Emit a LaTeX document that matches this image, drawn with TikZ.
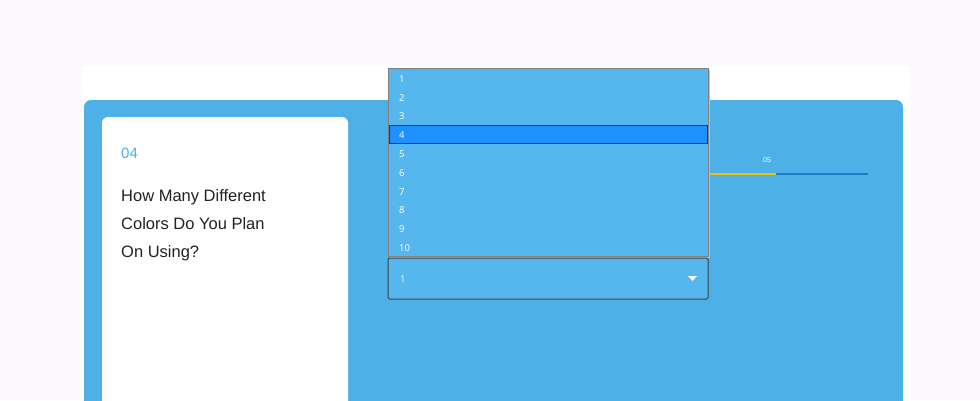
\documentclass[tikz,border=0pt]{standalone}
\usepackage{fontspec}
\setmainfont{Liberation Sans}
\newfontfamily\itemfont{Open Sans}
\definecolor{bgc}{HTML}{FBF9FD}
\definecolor{panelblue}{HTML}{4DB0E6}
\definecolor{listblue}{HTML}{55B7EE}
\definecolor{selblue}{HTML}{1E90FF}
\definecolor{numblue}{HTML}{4DB0E6}
\definecolor{barblue}{HTML}{1A7FC0}
\definecolor{baryellow}{HTML}{F2C200}
\definecolor{txt}{HTML}{222222}
\tikzset{
  itemtxt/.style={anchor=west,text=white,font=\itemfont\fontsize{9.5}{11}\selectfont,inner sep=0pt},
}
\begin{document}
\begin{tikzpicture}[x=1pt,y=-1pt]
\fill[bgc] (0,0) rectangle (980,400);
\useasboundingbox (0,0) rectangle (980,400);
\fill[white] (82,66) rectangle (910,400);
\fill[panelblue,rounded corners=7pt] (84,100) rectangle (903,420);
\fill[white,rounded corners=6pt] (102,117) rectangle (348,420);
\node[anchor=west,text=numblue,font=\fontsize{15}{18}\selectfont,inner sep=0pt] (num) at (121,153) {04};
\node[anchor=north west,text=txt,font=\fontsize{16.5}{28}\selectfont,align=left,inner sep=0pt] (q) at (121,189) {How Many Different\\Colors Do You Plan\\On Using?};
% progress
\coordinate (p0) at (708,174);
\coordinate (p1) at (776,174);
\coordinate (p2) at (868,174);
\draw[baryellow,line width=2pt] (p0) -- (p1);
\draw[barblue,line width=2pt] (p1) -- (p2);
\node[text=white,font=\fontsize{7}{8}\selectfont,inner sep=0pt] (five) at (767,160) {05};
% list
\fill[black!25] (390,70) rectangle (710,258);
\draw[gray,fill=listblue] (388,68) rectangle (708,256);
\fill[selblue] (389,125.5) rectangle (707,143);
\draw[black!80,line width=1pt] (389,125.5) rectangle (707,143);
\foreach \t [count=\i] in {1,...,10} {
  \node[itemtxt] (it\i) at (399,{79+(\i-1)*18.8}) {\t};
}
% select
\draw[black!75,fill=listblue,line width=1pt,rounded corners=1.5pt] (388,258) rectangle (708,299);
\node[itemtxt] (sel) at (400,279) {1};
\fill[white] (688,276) -- (697,276) -- (692.5,281) -- cycle;
\end{tikzpicture}
\end{document}
